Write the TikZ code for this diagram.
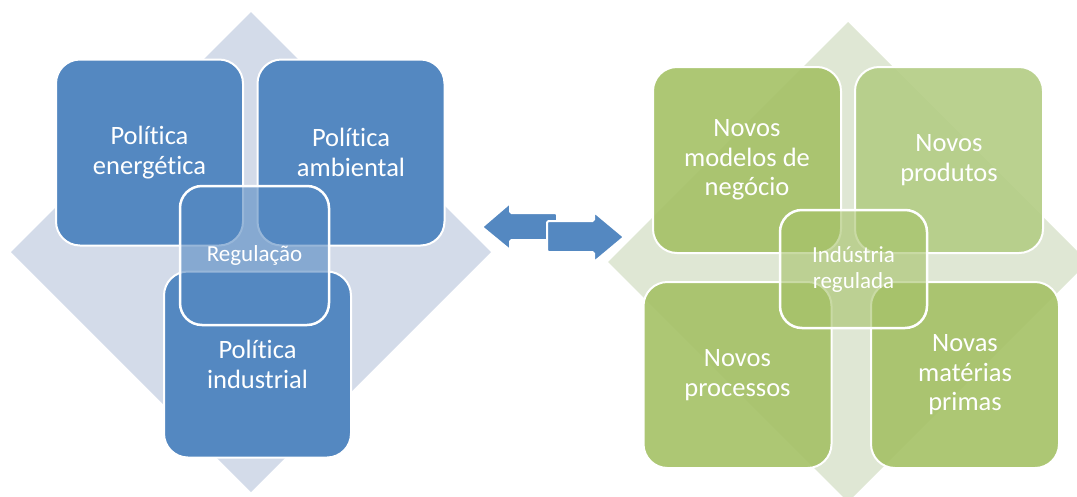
\documentclass[tikz,border=0pt]{standalone}
\usepackage{fontspec}
\setmainfont{Carlito}[RawFeature={-liga;-clig;-dlig;-calt;-rlig}]
\definecolor{bluebox}{HTML}{5488C1}
\definecolor{bluedia}{HTML}{D3DBE9}
\definecolor{greenbox}{HTML}{A6C268}
\definecolor{greenlight}{HTML}{B4CD86}
\definecolor{greendia}{HTML}{DFE7D4}
\tikzset{
  boxstyle/.style={draw=white, line width=2pt, rounded corners=24pt, text=white, align=center,
    font=\fontsize{26.5}{29.5}\selectfont, inner sep=0pt},
  bluebig/.style={boxstyle, fill=bluebox, minimum width=187pt, minimum height=186pt},
  greenbig/.style={boxstyle, fill=greenbox, fill opacity=0.92, text opacity=1, minimum width=188pt, minimum height=186pt},
  centerbox/.style={draw=white, line width=2.5pt, rounded corners=22pt, text=white, align=center,
    font=\fontsize{23}{26}\selectfont, inner sep=0pt, fill opacity=0.6, text opacity=1, draw opacity=1},
  arrowshape/.style={fill=bluebox, draw=white, line width=2pt, rounded corners=1.5pt}
}
\begin{document}
\begin{tikzpicture}[x=1pt,y=-1pt]
\useasboundingbox (0,0) rectangle (1077,496);
\clip (0,0) rectangle (1077,496);
% diamonds
\fill[bluedia] (251,12) -- (491,252) -- (251,492) -- (11,252) -- cycle;
\fill[greendia] (848,22) -- (1088,262) -- (848,502) -- (608,262) -- cycle;
% left group
\node[bluebig] (pe) at (149.5,152.5) {Política\\energética};
\node[bluebig] (pa) at (351,152.5) {Política\\ambiental};
\node[bluebig] (pi) at (257.5,364.5) {Política\\industrial};
\node[centerbox, fill=bluebox, minimum width=149pt, minimum height=139pt] (reg) at (254.5,255.5) {Regulação};
% arrows
\draw[arrowshape] (482,227) -- (510,203) -- (510,213) -- (557,213) -- (557,240) -- (510,240) -- (510,250) -- cycle;
\draw[arrowshape] (547,221) -- (594,221) -- (594,212) -- (624,237) -- (594,262) -- (594,252) -- (547,252) -- cycle;
% right group
\node[greenbig] (nm) at (747,160) {Novos\\modelos de\\negócio};
\node[greenbig, fill=greenlight] (np) at (949,160) {Novos\\produtos};
\node[greenbig] (npr) at (737.5,375) {Novos\\processos};
\node[greenbig] (nmp) at (965,375) {Novas\\matérias\\primas};
\node[centerbox, fill=greenbox, minimum width=147pt, minimum height=118pt] (ir) at (853.5,269) {Indústria\\regulada};
\end{tikzpicture}
\end{document}
